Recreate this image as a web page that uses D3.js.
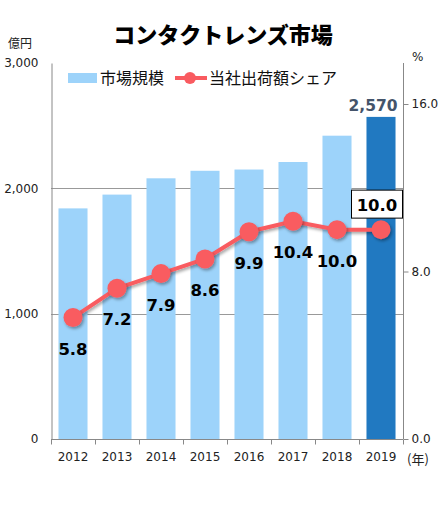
<!DOCTYPE html>
<html><head><meta charset="utf-8">
<script src="https://cdn.jsdelivr.net/npm/d3@7"></script>
<style>
body{margin:0;background:#fff;}
text{font-family:"DejaVu Sans",Verdana,sans-serif;}
.jp{font-family:"Noto Sans CJK JP","Noto Sans",sans-serif;}
</style></head>
<body><svg id="c" width="445" height="513"></svg>
<script>
const years = ["2012","2013","2014","2015","2016","2017","2018","2019"];
const marketSize = [1840,1950,2080,2140,2150,2210,2420,2570];
const share = [5.8,7.2,7.9,8.6,9.9,10.4,10.0,10.0];
const leftTicks = [0,1000,2000,3000];
const rightTicks = [0,8,16];

const svg = d3.select("#c");
const L=51,R=403,T=63,B=439;
const x = d3.scaleBand().domain(years).range([L,R]).paddingInner(0.34).paddingOuter(0.17);
const yL = d3.scaleLinear().domain([0,3000]).range([B,T]);
const yR = d3.scaleLinear().domain([0,16]).range([B,104]);

const defs = svg.append("defs");
const f = defs.append("filter").attr("id","sh").attr("x","-50%").attr("y","-50%").attr("width","200%").attr("height","200%");
f.append("feDropShadow").attr("dx",1.5).attr("dy",2).attr("stdDeviation",1.5).attr("flood-color","#000").attr("flood-opacity",0.35);

// title
svg.append("text").attr("class","jp").attr("x",223).attr("y",43).attr("text-anchor","middle")
  .attr("font-size",22).attr("font-weight","900").attr("fill","#000").text("コンタクトレンズ市場");

// gridlines
svg.append("g").selectAll("line").data([1000,2000]).join("line")
  .attr("x1",L).attr("x2",R).attr("y1",d=>Math.round(yL(d))+0.5).attr("y2",d=>Math.round(yL(d))+0.5)
  .attr("stroke","#999").attr("stroke-width",1);

// bars
svg.append("g").selectAll("rect").data(years).join("rect")
  .attr("x",d=>x(d)).attr("width",x.bandwidth())
  .attr("y",(d,i)=>yL(marketSize[i])).attr("height",(d,i)=>B-yL(marketSize[i]))
  .attr("fill",(d,i)=>i===years.length-1?"#2179C1":"#9DD3FA");

// axes
const gL = svg.append("g").attr("transform",`translate(${L+0.5},0)`)
  .call(d3.axisLeft(yL).tickValues(leftTicks).tickSize(0).tickPadding(13).tickFormat(d3.format(",")));
gL.select(".domain").attr("stroke","#888");
gL.selectAll("text").attr("font-size",12).attr("fill","#222");

const gR = svg.append("g").attr("transform",`translate(${R+0.5},0)`)
  .call(d3.axisRight(yR).tickValues(rightTicks).tickSize(5).tickPadding(3).tickFormat(d3.format(".1f")));
gR.select(".domain").attr("stroke","#888").attr("d",`M0,${T}V${B}`);
gR.selectAll("line").attr("stroke","#888");
gR.selectAll("text").attr("font-size",12).attr("fill","#222");

const gB = svg.append("g").attr("transform",`translate(0,${B+0.5})`)
  .call(d3.axisBottom(x).tickSize(0).tickPadding(13));
gB.select(".domain").attr("stroke","#888").attr("d",`M${L},0H${R}`);
gB.selectAll("text").attr("font-size",12).attr("fill","#222");
const step = x.step();
gB.append("g").selectAll("line").data(d3.range(years.length+1)).join("line")
  .attr("x1",i=>L+0.5+i*step).attr("x2",i=>L+0.5+i*step).attr("y1",0).attr("y2",5).attr("stroke","#888");

// unit labels
svg.append("text").attr("class","jp").attr("x",8).attr("y",48).attr("font-size",12).attr("fill","#222").text("億円");
svg.append("text").attr("x",412).attr("y",61).attr("font-size",12).attr("fill","#222").text("%");
svg.append("text").attr("class","jp").attr("x",407).attr("y",464).attr("font-size",13).attr("fill","#222").text("(年)");

// line
const cx = d=>x(d)+x.bandwidth()/2;
const line = d3.line().x((d,i)=>cx(years[i])).y(d=>yR(d));
svg.append("path").datum(share).attr("d",line).attr("fill","none")
  .attr("stroke","#F95B60").attr("stroke-width",4).attr("filter","url(#sh)");
svg.append("g").selectAll("circle").data(share).join("circle")
  .attr("cx",(d,i)=>cx(years[i])).attr("cy",d=>yR(d)).attr("r",9.5)
  .attr("fill","#F95B60").attr("filter","url(#sh)");

// share labels
svg.append("g").selectAll("text").data(share.slice(0,-1)).join("text")
  .attr("x",(d,i)=>cx(years[i])).attr("y",d=>yR(d)+37)
  .attr("text-anchor","middle").attr("font-size",16.5).attr("font-weight","bold").attr("fill","#000")
  .text(d=>d3.format(".1f")(d));

// last share label box
const li = years.length-1;
const lx = cx(years[li])-4, ly = yR(share[li])-25;
svg.append("rect").attr("x",lx-25.5).attr("y",ly-14.5).attr("width",51).attr("height",28)
  .attr("fill","#fff").attr("stroke","#000").attr("stroke-width",1);
svg.append("text").attr("x",lx).attr("y",ly+6).attr("text-anchor","middle")
  .attr("font-size",16.5).attr("font-weight","bold").attr("fill","#000").text(d3.format(".1f")(share[li]));

// last bar label
svg.append("text").attr("x",cx(years[li])-8).attr("y",yL(marketSize[li])-6).attr("text-anchor","middle")
  .attr("font-size",15.5).attr("font-weight","bold").attr("fill","#44546A").text(d3.format(",")(marketSize[li]));

// legend
svg.append("rect").attr("x",68).attr("y",73).attr("width",29).attr("height",10).attr("fill","#9DD3FA");
svg.append("text").attr("class","jp").attr("x",100).attr("y",84).attr("font-size",16).attr("fill","#111").text("市場規模");
svg.append("line").attr("x1",175).attr("x2",207).attr("y1",78).attr("y2",78).attr("stroke","#F95B60").attr("stroke-width",4);
svg.append("circle").attr("cx",190).attr("cy",78).attr("r",6).attr("fill","#F95B60");
svg.append("text").attr("class","jp").attr("x",209).attr("y",84).attr("font-size",16).attr("fill","#111").text("当社出荷額シェア");
</script></body></html>
